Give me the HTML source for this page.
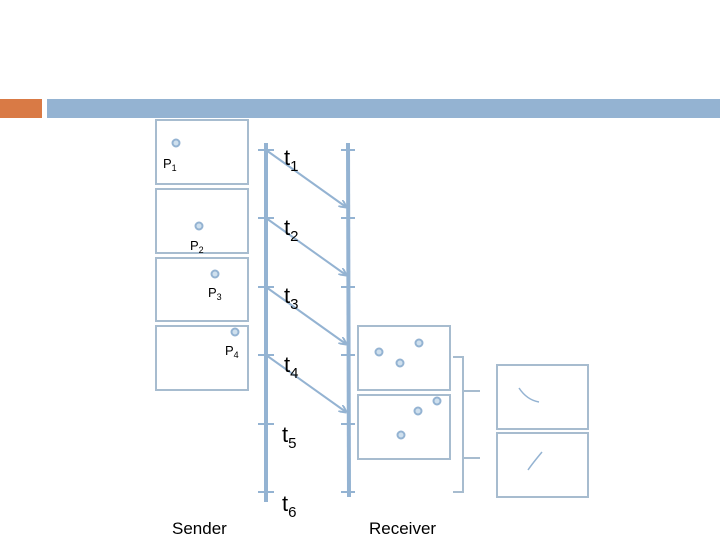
<!DOCTYPE html><html><head><style>body{margin:0;background:#fff}svg text{font-family:"Liberation Sans",sans-serif;fill:#000}</style></head><body>
<svg width="720" height="540" xmlns="http://www.w3.org/2000/svg">
<defs><marker id="a" markerWidth="8" markerHeight="8" refX="7" refY="4" orient="auto" markerUnits="userSpaceOnUse"><path d="M0,0L8,4L0,8" fill="none" stroke="#94b3d2" stroke-width="2"/></marker></defs>
<rect x="0" y="99" width="42" height="19" fill="#d97a45"/>
<rect x="47" y="99" width="673" height="19" fill="#94b3d2"/>
<g fill="none" stroke="#a7bccf" stroke-width="2">
<rect x="156" y="120" width="92" height="64"/><rect x="156" y="189" width="92" height="64"/><rect x="156" y="258" width="92" height="63"/><rect x="156" y="326" width="92" height="64"/>
<rect x="358" y="326" width="92" height="64"/><rect x="358" y="395" width="92" height="64"/>
<rect x="497" y="365" width="91" height="64"/><rect x="497" y="433" width="91" height="64"/>
<path d="M453,357h10v135h-10M463,391h17M463,458h17"/>
</g>
<g stroke="#94b3d2" fill="none">
<line x1="266" y1="143" x2="266" y2="502" stroke-width="4"/>
<line x1="348" y1="143" x2="349" y2="497" stroke-width="4"/>
<g stroke-width="2"><path d="M258,150h16M258,218h16M258,287h16M258,355h16M258,424h16M258,492h16M341,150h14M341,218h14M341,287h14M341,355h14M341,424h14M341,492h14"/>
<line x1="266" y1="150" x2="346" y2="207" marker-end="url(#a)"/><line x1="266" y1="218" x2="346" y2="275" marker-end="url(#a)"/><line x1="266" y1="287" x2="346" y2="344" marker-end="url(#a)"/><line x1="266" y1="355" x2="346" y2="412" marker-end="url(#a)"/>
<path d="M519,388q8,12 20,14M542,452q-10,12 -14,18" stroke-width="1.5"/></g>
</g>
<g fill="#cfe0ee" stroke="#94b3d2" stroke-width="2">
<circle cx="176" cy="143" r="3.5"/><circle cx="199" cy="226" r="3.5"/><circle cx="215" cy="274" r="3.5"/><circle cx="235" cy="332" r="3.5"/>
<circle cx="379" cy="352" r="3.5"/><circle cx="400" cy="363" r="3.5"/><circle cx="419" cy="343" r="3.5"/>
<circle cx="437" cy="401" r="3.5"/><circle cx="418" cy="411" r="3.5"/><circle cx="401" cy="435" r="3.5"/>
</g>
<g font-size="13"><text x="163" y="168">P<tspan font-size="9" dy="3">1</tspan></text><text x="190" y="250">P<tspan font-size="9" dy="3">2</tspan></text><text x="208" y="297">P<tspan font-size="9" dy="3">3</tspan></text><text x="225" y="355">P<tspan font-size="9" dy="3">4</tspan></text></g>
<g font-size="22"><text x="284" y="165">t<tspan font-size="15" dy="6">1</tspan></text><text x="284" y="235">t<tspan font-size="15" dy="6">2</tspan></text><text x="284" y="303">t<tspan font-size="15" dy="6">3</tspan></text><text x="284" y="372">t<tspan font-size="15" dy="6">4</tspan></text><text x="282" y="442">t<tspan font-size="15" dy="6">5</tspan></text><text x="282" y="511">t<tspan font-size="15" dy="6">6</tspan></text></g>
<text x="172" y="534" font-size="17">Sender</text><text x="369" y="534" font-size="17">Receiver</text>
</svg></body></html>
